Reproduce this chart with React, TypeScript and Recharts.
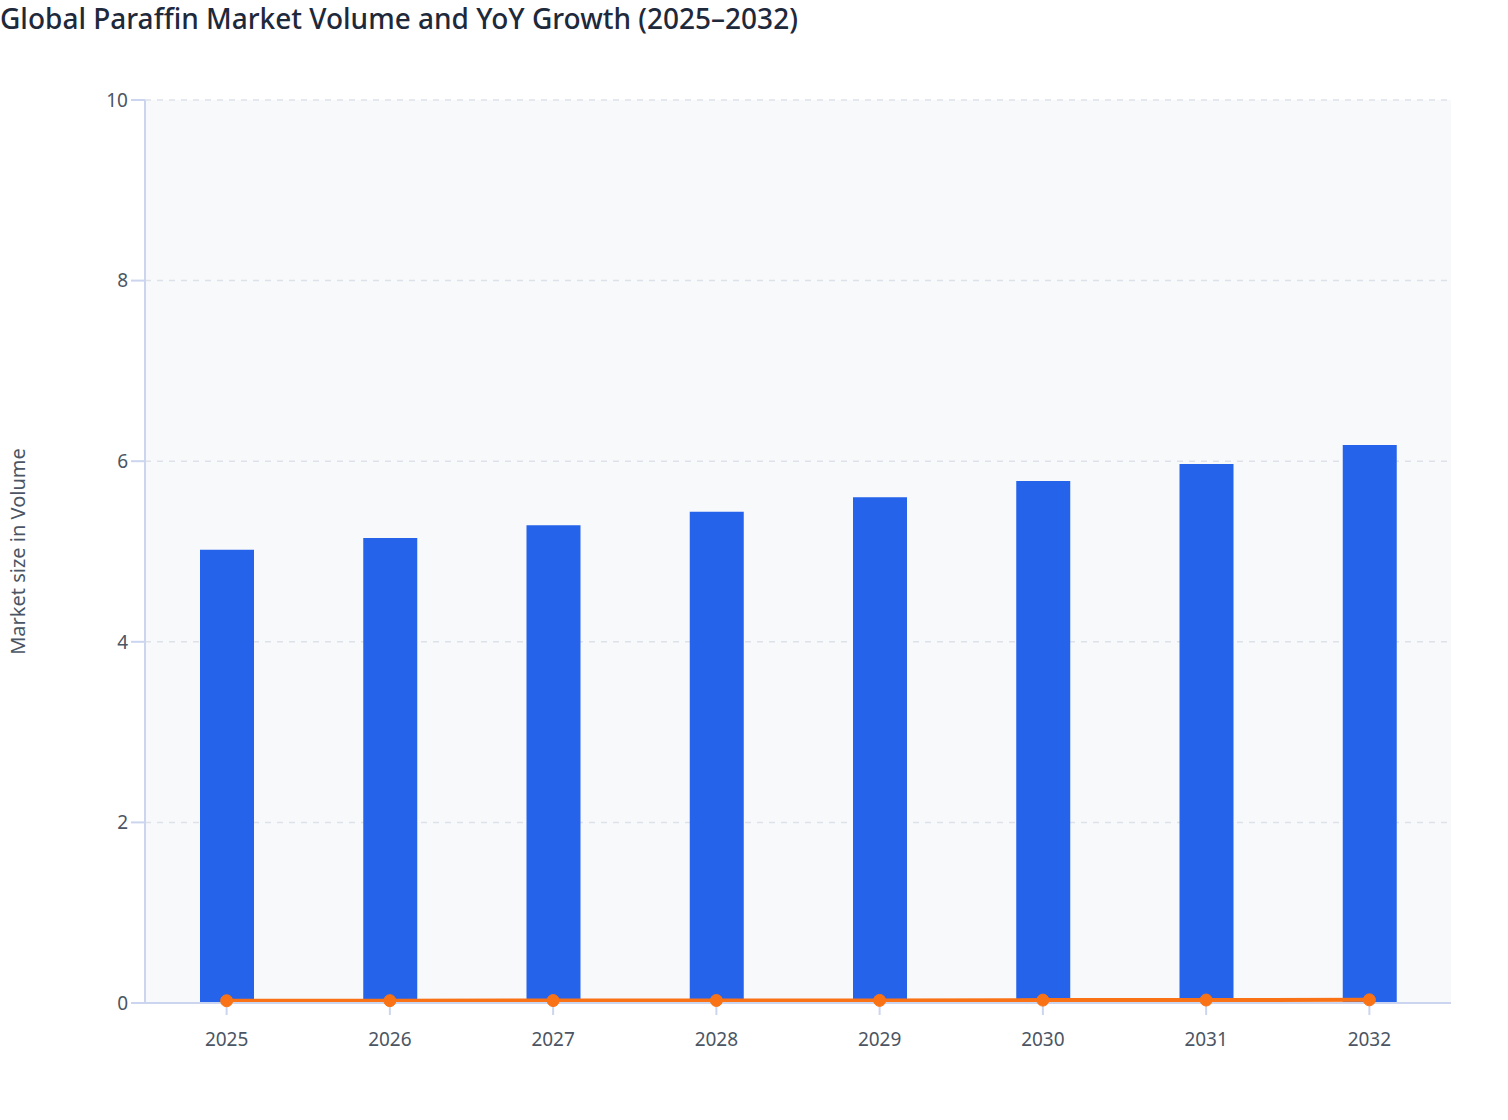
import { ComposedChart, Bar, Line, XAxis, YAxis, CartesianGrid } from 'recharts';

const years = ['2025', '2026', '2027', '2028', '2029', '2030', '2031', '2032'];
const marketVolume = [5.02, 5.15, 5.29, 5.44, 5.6, 5.78, 5.97, 6.18];
const yoyGrowth = [0.025, 0.026, 0.027, 0.028, 0.029, 0.032, 0.033, 0.035];
const yTicks = [0, 2, 4, 6, 8, 10];

const data = years.map((year, i) => ({
  year,
  volume: marketVolume[i],
  growth: yoyGrowth[i],
}));

const font = '"Noto Sans", "Open Sans", sans-serif';
const axisColor = '#cbd5f0';
const tickText = { fontSize: 19, fill: '#4b5563', fontFamily: font };

function YLabel(props: any) {
  const vb = props.viewBox || {};
  const x = 17;
  const y = (vb.y ?? 0) + (vb.height ?? 0) / 2;
  return (
    <text
      x={x}
      y={y}
      transform={`rotate(-90, ${x}, ${y})`}
      textAnchor="middle"
      dominantBaseline="central"
      style={{ fontSize: 20, fill: '#4b5563', fontFamily: font }}
    >
      Market size in Volume
    </text>
  );
}

export default function App() {
  return (
    <div
      style={{
        position: 'absolute',
        left: 0,
        top: 0,
        width: 1508,
        height: 1120,
        background: '#fff',
        fontFamily: font,
      }}
    >
      <div
        style={{
          position: 'absolute',
          left: 0,
          top: 0,
          lineHeight: '36px',
          fontSize: 28,
          fontWeight: 500,
          color: '#1e293b',
          whiteSpace: 'nowrap',
        }}
      >
        Global Paraffin Market Volume and YoY Growth (2025–2032)
      </div>
      <ComposedChart
        width={1508}
        height={1120}
        data={data}
        margin={{ top: 100, right: 57, left: 0, bottom: 57 }}
      >
        <CartesianGrid
          vertical={false}
          stroke="#dde1e9"
          strokeWidth={1.5}
          strokeDasharray="6 6"
          fill="#f8f9fb"
        />
        <XAxis
          dataKey="year"
          height={60}
          tick={tickText}
          tickSize={12}
          tickMargin={18}
          axisLine={{ stroke: axisColor, strokeWidth: 2 }}
          tickLine={{ stroke: axisColor, strokeWidth: 2 }}
        />
        <YAxis
          width={145}
          domain={[0, 10]}
          ticks={yTicks}
          tick={tickText}
          tickSize={14}
          tickMargin={3}
          axisLine={{ stroke: axisColor, strokeWidth: 2 }}
          tickLine={{ stroke: axisColor, strokeWidth: 2 }}
          label={<YLabel />}
        />
        <Bar dataKey="volume" fill="#2563eb" barSize={54} isAnimationActive={false} />
        <Line
          type="linear"
          dataKey="growth"
          stroke="#f97316"
          strokeWidth={4}
          dot={{ r: 6, fill: '#f97316', stroke: '#f97316', strokeWidth: 1 }}
          isAnimationActive={false}
        />
      </ComposedChart>
    </div>
  );
}
